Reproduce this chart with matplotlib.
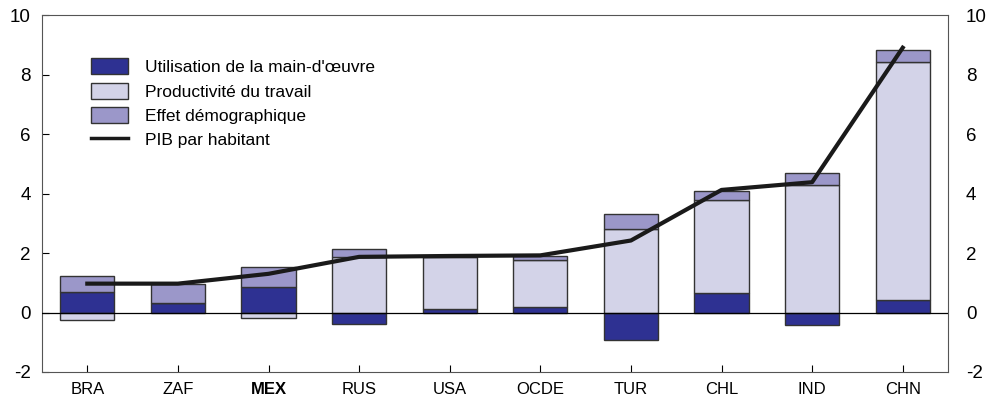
import numpy as np
import matplotlib
matplotlib.use('Agg')
import matplotlib.pyplot as plt
from matplotlib.patches import Patch
from matplotlib.lines import Line2D

plt.rcParams['font.family'] = ['Liberation Sans', 'DejaVu Sans']
plt.rcParams['axes.unicode_minus'] = False

countries = ['BRA', 'ZAF', 'MEX', 'RUS', 'USA', 'OCDE', 'TUR', 'CHL', 'IND', 'CHN']
labour = [0.70, 0.33, 0.85, -0.40, 0.12, 0.18, -0.92, 0.65, -0.42, 0.42]
productivity = [-0.25, 0.0, -0.20, 1.85, 1.73, 1.60, 2.80, 3.12, 4.30, 8.00]
demographic = [0.52, 0.64, 0.67, 0.28, 0.0, 0.12, 0.50, 0.31, 0.40, 0.40]
gdp = [0.97, 0.97, 1.30, 1.87, 1.90, 1.92, 2.42, 4.12, 4.38, 8.90]

c_lab = '#2e3192'
c_prod = '#d3d3e8'
c_demo = '#9b97c9'
edge = '#333333'

fig = plt.figure(figsize=(9.93, 4.0), dpi=100)
ax = fig.add_axes([0.0423, 0.07, 0.9124, 0.8925])

x = np.arange(len(countries))
w = 0.6
pos_base = np.zeros(len(x))
neg_base = np.zeros(len(x))
for vals, col in [(labour, c_lab), (productivity, c_prod), (demographic, c_demo)]:
    v = np.array(vals)
    bottom = np.where(v >= 0, pos_base, neg_base)
    ax.bar(x, v, w, bottom=bottom, color=col, edgecolor=edge, linewidth=1.0, zorder=2)
    pos_base = pos_base + np.where(v > 0, v, 0)
    neg_base = neg_base + np.where(v < 0, v, 0)

ax.axhline(0, color='black', linewidth=0.9, zorder=3)
ax.plot(x, gdp, color='#1a1a1a', linewidth=3, zorder=4)

ax.set_xlim(-0.5, 9.5)
ax.set_ylim(-2, 10)
ax.set_yticks(range(-2, 11, 2))
ax.set_xticks(x)
ax.set_xticklabels(countries, fontsize=12)
ax.get_xticklabels()[2].set_fontweight('bold')
ax.yaxis.set_ticks_position('both')
ax.tick_params(axis='y', direction='in', labelsize=13.5, length=5, pad=8)
ax.tick_params(axis='x', direction='in', length=5, pad=7)
for s in ax.spines.values():
    s.set_color('#555555')

ax2 = ax.twinx()
ax2.set_ylim(-2, 10)
ax2.set_yticks(range(-2, 11, 2))
ax2.tick_params(axis='y', direction='in', labelsize=13.5, length=0, pad=13)
for s in ax2.spines.values():
    s.set_visible(False)

handles = [Patch(facecolor=c_lab, edgecolor=edge, label="Utilisation de la main-d'œuvre"),
           Patch(facecolor=c_prod, edgecolor=edge, label='Productivité du travail'),
           Patch(facecolor=c_demo, edgecolor=edge, label='Effet démographique'),
           Line2D([0], [0], color='#1a1a1a', linewidth=2.5, label='PIB par habitant')]
ax.legend(handles=handles, loc='upper left', bbox_to_anchor=(0.037, 0.922), frameon=False,
          fontsize=12.5, handlelength=2.13, handleheight=1.03, labelspacing=0.42, handletextpad=1.0)

fig.savefig('out.png', dpi=100)
